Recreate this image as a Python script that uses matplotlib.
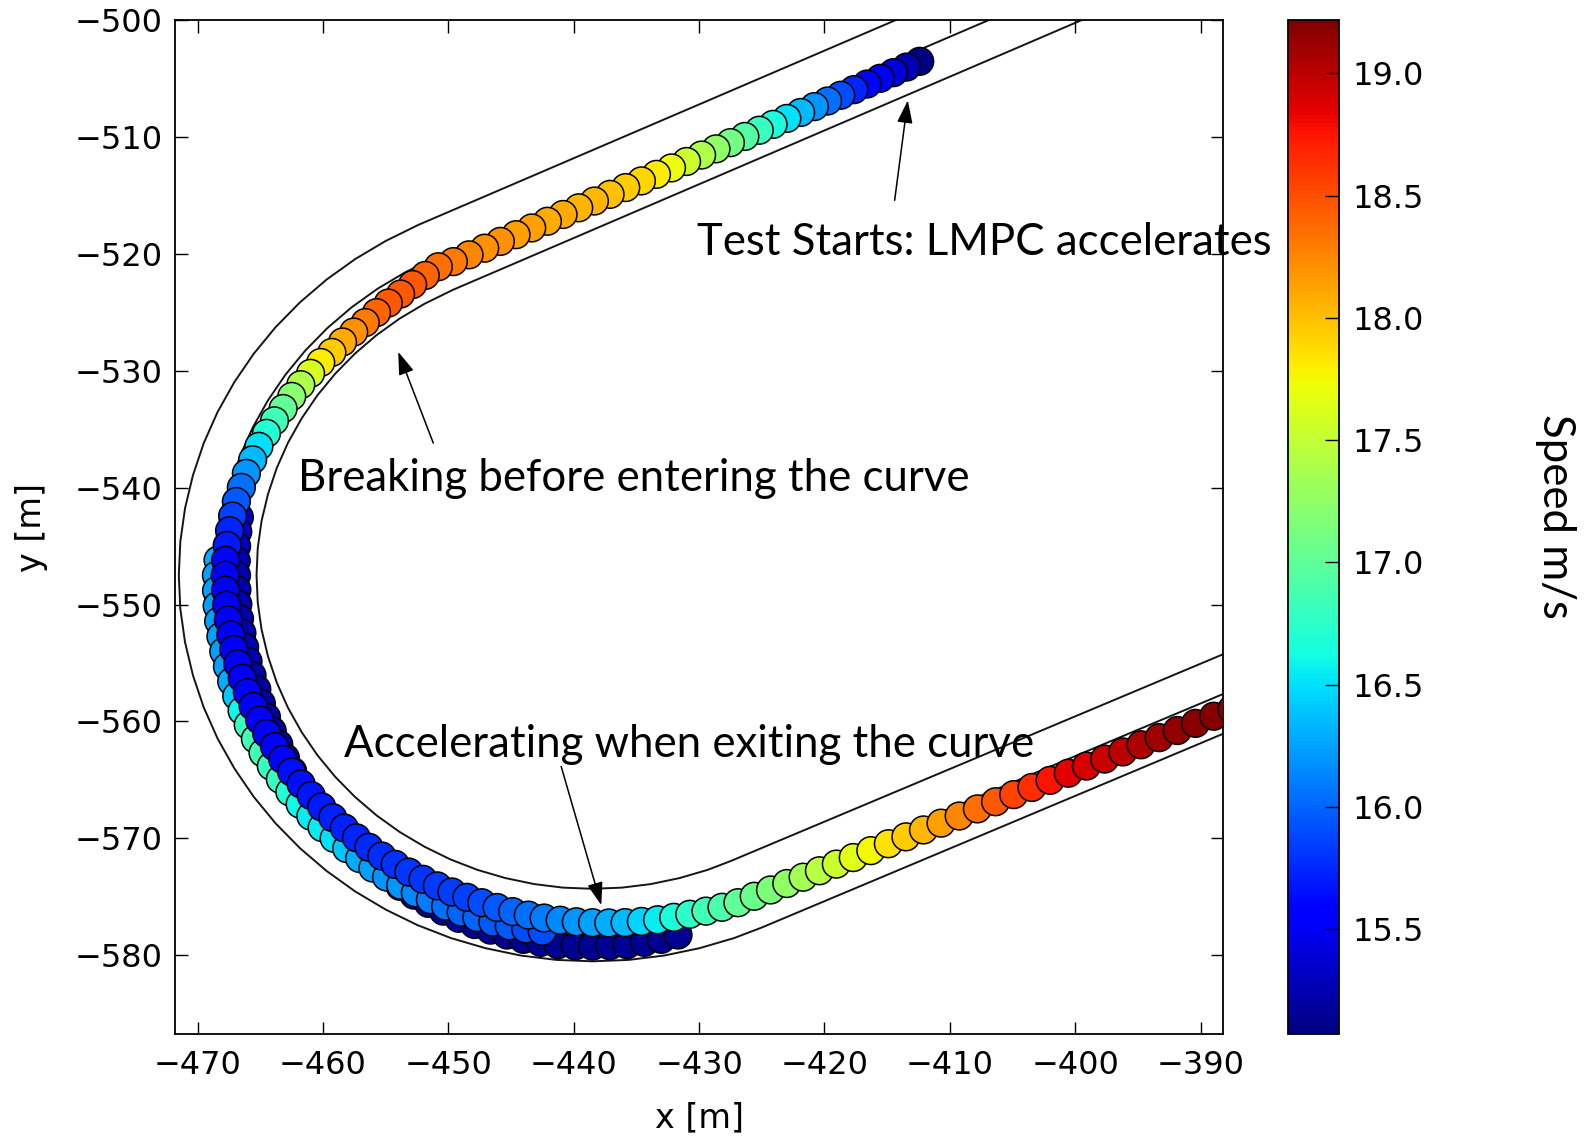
import numpy as np
import matplotlib
matplotlib.use("Agg")
import matplotlib.pyplot as plt
from matplotlib.colors import Normalize

# ---- track centre line (m) ----
track_x = [-395.0, -406.8, -451.0, -453.45, -455.65, -457.72, -459.64, -461.40, -462.99, -464.39,
           -465.60, -466.60, -467.38, -467.95, -468.29, -468.40, -468.29, -467.95, -467.38, -466.60,
           -465.60, -464.39, -462.99, -461.40, -459.64, -457.72, -455.65, -453.45, -451.14, -448.73,
           -446.24, -443.69, -441.11, -438.50, -435.89, -433.31, -430.76, -428.27, -426.24, -385.0]
track_y = [-494.57, -500.0, -520.32, -521.61, -523.01, -524.60, -526.36, -528.28, -530.35, -532.55,
           -534.86, -537.27, -539.76, -542.31, -544.89, -547.50, -550.11, -552.69, -555.24, -557.73,
           -560.14, -562.45, -564.65, -566.72, -568.64, -570.40, -571.99, -573.39, -574.60, -575.60,
           -576.38, -576.95, -577.29, -577.40, -577.29, -576.95, -576.38, -575.60, -574.77, -556.21]
track_half_width = 3.1

# ---- closed-loop trajectory, lap 1: straight in ----
in_x = [-412.4, -413.45, -414.5, -415.55, -416.6, -417.65, -418.7, -419.75, -420.8, -421.9,
        -423.0, -424.1, -425.2, -426.35, -427.5, -428.65, -429.8, -431.0, -432.2, -433.4,
        -434.6, -435.85, -437.1, -438.35, -439.6, -440.85, -442.1, -443.35, -444.6, -445.85,
        -447.1, -448.35, -449.6]
in_y = [-503.57, -504.06, -504.54, -505.02, -505.51, -505.99, -506.47, -506.96, -507.44, -507.94,
        -508.45, -508.96, -509.46, -509.99, -510.52, -511.05, -511.58, -512.13, -512.68, -513.23,
        -513.79, -514.36, -514.94, -515.51, -516.09, -516.66, -517.24, -517.81, -518.39, -518.96,
        -519.54, -520.11, -520.69]
in_v = [15.1, 15.25, 15.4, 15.5, 15.6, 15.75, 15.9, 16.05, 16.2, 16.35,
        16.5, 16.65, 16.8, 16.95, 17.1, 17.25, 17.4, 17.55, 17.7, 17.8,
        17.9, 17.95, 18.0, 18.05, 18.05, 18.1, 18.1, 18.15, 18.15, 18.2,
        18.2, 18.25, 18.3]

# lap 1: corner
turn_x = [-450.80, -451.84, -452.85, -453.81, -454.79, -455.73, -456.63, -457.55, -458.44, -459.29,
          -460.18, -460.99, -461.77, -462.49, -463.18, -463.87, -464.51, -465.11, -465.61, -466.11,
          -466.51, -466.91, -467.21, -467.45, -467.64, -467.77, -467.80, -467.77, -467.69, -467.55,
          -467.35, -467.11, -466.80, -466.44, -466.03, -465.57, -465.05, -464.49, -463.87, -463.21,
          -462.50, -461.75, -460.94, -460.10, -459.22, -458.30, -457.33, -456.34, -455.31, -454.24,
          -453.15, -452.03, -450.88, -449.71, -448.52, -447.33, -446.11, -444.87, -443.62, -442.36,
          -441.08, -439.79, -438.50, -437.20, -435.90, -434.60, -433.31, -432.02, -430.74, -429.45,
          -428.17, -426.90]
turn_y = [-521.13, -521.87, -522.65, -523.46, -524.23, -525.05, -525.90, -526.71, -527.56, -528.45,
          -529.31, -530.24, -531.21, -532.21, -533.25, -534.30, -535.37, -536.48, -537.63, -538.79,
          -539.99, -541.20, -542.44, -543.69, -544.95, -546.22, -547.50, -548.78, -550.05, -551.32,
          -552.59, -553.84, -555.08, -556.31, -557.52, -558.71, -559.88, -561.03, -562.15, -563.24,
          -564.31, -565.34, -566.33, -567.30, -568.22, -569.10, -569.94, -570.75, -571.50, -572.21,
          -572.87, -573.49, -574.05, -574.57, -575.03, -575.49, -575.90, -576.25, -576.55, -576.80,
          -576.99, -577.12, -577.20, -577.22, -577.19, -577.09, -576.95, -576.74, -576.48, -576.21,
          -575.88, -575.49]
turn_v = [18.35, 18.4, 18.45, 18.45, 18.45, 18.4, 18.3, 18.2, 18.1, 17.95,
          17.8, 17.6, 17.4, 17.2, 17.0, 16.85, 16.7, 16.5, 16.35, 16.2,
          16.05, 15.95, 15.85, 15.75, 15.7, 15.6, 15.55, 15.5, 15.5, 15.5,
          15.5, 15.5, 15.5, 15.52, 15.55, 15.55, 15.58, 15.6, 15.6, 15.62,
          15.65, 15.65, 15.68, 15.7, 15.72, 15.73, 15.75, 15.76, 15.78, 15.79,
          15.8, 15.8, 15.82, 15.84, 15.86, 15.9, 15.95, 16.0, 16.05, 16.1,
          16.15, 16.2, 16.25, 16.3, 16.35, 16.45, 16.55, 16.65, 16.75, 16.85,
          16.9, 17.0]

# lap 1: straight out
out_x = [-425.6, -424.3, -423.0, -421.7, -420.4, -419.05, -417.7, -416.3, -414.9, -413.5,
         -412.1, -410.7, -409.25, -407.8, -406.35, -404.9, -403.45, -402.0, -400.55, -399.1,
         -397.65, -396.2, -394.75, -393.3, -391.85, -390.4, -388.95, -387.5]
out_y = [-574.94, -574.40, -573.85, -573.31, -572.76, -572.19, -571.63, -571.04, -570.45, -569.86,
         -569.27, -568.69, -568.08, -567.47, -566.86, -566.25, -565.64, -565.03, -564.42, -563.81,
         -563.21, -562.60, -561.99, -561.38, -560.77, -560.16, -559.55, -558.94]
out_v = [17.05, 17.15, 17.25, 17.35, 17.45, 17.55, 17.65, 17.75, 17.85, 17.95,
         18.05, 18.15, 18.25, 18.35, 18.45, 18.55, 18.65, 18.75, 18.85, 18.9,
         18.95, 19.0, 19.05, 19.1, 19.15, 19.18, 19.2, 19.2]

# earlier laps through the corner
lap2_x = [-468.37, -468.50, -468.49, -468.44, -468.32, -468.14, -467.91, -467.62, -467.28, -466.88,
          -466.45, -465.96, -465.39, -464.78, -464.12, -463.40, -462.64, -461.82, -460.97, -460.07,
          -459.11, -458.11, -457.08, -456.02, -454.93, -453.80, -452.63, -451.43, -450.22, -448.98,
          -447.73, -446.45, -445.14, -443.83, -442.51]
lap2_y = [-546.20, -547.50, -548.81, -550.12, -551.43, -552.73, -554.02, -555.30, -556.58, -557.83,
          -559.08, -560.30, -561.50, -562.68, -563.82, -564.94, -566.02, -567.07, -568.09, -569.07,
          -569.99, -570.86, -571.71, -572.53, -573.29, -574.00, -574.64, -575.23, -575.79, -576.30,
          -576.76, -577.15, -577.47, -577.73, -577.94]
lap2_v = [16.3, 16.25, 16.25, 16.25, 16.25, 16.25, 16.25, 16.25, 16.3, 16.4,
          16.6, 16.8, 16.85, 16.85, 16.8, 16.8, 16.7, 16.6, 16.55, 16.55,
          16.5, 16.4, 16.3, 16.25, 16.2, 16.2, 16.15, 16.1, 16.05, 16.0,
          16.0, 15.95, 15.95, 15.9, 15.9]

lap3_x = [-466.67, -466.80, -466.89, -466.92, -466.90, -466.87, -466.79, -466.66, -466.47, -466.25,
          -465.98, -465.66, -465.28, -464.92, -464.51, -464.05, -463.53, -463.00, -462.42, -461.79,
          -461.10, -460.36, -459.57, -458.73, -457.85, -456.92, -455.94, -454.91, -453.85, -452.73,
          -451.58, -450.39, -449.17, -447.91, -446.63, -445.32, -444.01, -442.63, -441.26, -439.88,
          -438.50, -437.12, -435.74, -434.37, -433.01, -431.68]
lap3_y = [-542.54, -543.77, -545.01, -546.26, -547.50, -548.74, -549.98, -551.21, -552.43, -553.65,
          -554.86, -556.06, -557.25, -558.45, -559.63, -560.80, -561.95, -563.11, -564.25, -565.37,
          -566.46, -567.53, -568.57, -569.58, -570.56, -571.50, -572.40, -573.27, -574.09, -574.84,
          -575.55, -576.21, -576.82, -577.35, -577.83, -578.25, -578.62, -578.88, -579.08, -579.17,
          -579.20, -579.17, -579.08, -578.88, -578.62, -578.25]
lap3_v = [15.35, 15.32, 15.3, 15.28, 15.25, 15.25, 15.25, 15.25, 15.25, 15.25,
          15.25, 15.22, 15.2, 15.2, 15.2, 15.2, 15.2, 15.2, 15.2, 15.2,
          15.2, 15.2, 15.2, 15.2, 15.2, 15.2, 15.2, 15.2, 15.2, 15.2,
          15.2, 15.2, 15.2, 15.15, 15.15, 15.15, 15.15, 15.15, 15.15, 15.15,
          15.15, 15.15, 15.15, 15.15, 15.15, 15.15]

speed_min, speed_max = 15.07, 19.22
cbar_ticks = [15.5, 16.0, 16.5, 17.0, 17.5, 18.0, 18.5, 19.0]


def offset_line(x, y, dist):
    pts = np.column_stack([x, y])
    seg = np.diff(pts, axis=0)
    seg = seg / np.linalg.norm(seg, axis=1)[:, None]
    tang = np.vstack([seg[0], seg[:-1] + seg[1:], seg[-1]])
    tang = tang / np.linalg.norm(tang, axis=1)[:, None]
    normal = np.column_stack([-tang[:, 1], tang[:, 0]])
    res = pts + dist * normal
    return res[:, 0], res[:, 1]


fig = plt.figure(figsize=(15.87, 11.38), dpi=100)
ax = fig.add_axes([0.1103, 0.0910, 0.6604, 0.8918])

# track: outer edge, centre line, inner edge
for d in (-track_half_width, 0.0, track_half_width):
    lx, ly = offset_line(track_x, track_y, d)
    ax.plot(lx, ly, color='#151515', lw=1.4, zorder=1)

norm = Normalize(vmin=speed_min, vmax=speed_max)
laps = [
    (lap3_x, lap3_y, lap3_v),
    (lap2_x, lap2_y, lap2_v),
    (in_x + turn_x + out_x, in_y + turn_y + out_y, in_v + turn_v + out_v),
]
for lx, ly, lv in laps:
    sc = ax.scatter(lx, ly, c=lv, cmap='jet', norm=norm, s=400,
                    edgecolors='black', linewidths=1.1, zorder=3)

ax.set_xlim(-471.8, -388.2)
ax.set_ylim(-586.75, -500)
ax.set_xticks(np.arange(-470, -389, 10))
ax.set_yticks(np.arange(-580, -499, 10))
ax.tick_params(direction='in', length=9, width=1, top=True, right=True, labelsize=23)
ax.tick_params(axis='x', pad=11)
ax.tick_params(axis='y', pad=9)
for sp in ax.spines.values():
    sp.set_linewidth(1.3)
ax.set_xlabel('x [m]', fontsize=24, labelpad=15)
ax.set_ylabel('y [m]', fontsize=24, labelpad=19)

# annotations (slide overlay)
note_font = dict(family=['Lato', 'DejaVu Sans'], fontsize=31.5, color='black')
arrow = dict(arrowstyle='-|>,head_length=0.5,head_width=0.17', color='black',
             lw=1.1, mutation_scale=28, shrinkA=0, shrinkB=0)
ax.text(-430.2, -520.16, 'Test Starts: LMPC accelerates', ha='left', va='baseline', zorder=5, **note_font)
ax.annotate('', xy=(-413.35, -506.9), xytext=(-414.4, -515.45), arrowprops=arrow, zorder=5)
ax.text(-462.0, -540.31, 'Breaking before entering the curve', ha='left', va='baseline', zorder=5, **note_font)
ax.annotate('', xy=(-454.0, -528.4), xytext=(-451.2, -536.2), arrowprops=arrow, zorder=5)
ax.text(-458.33, -563.06, 'Accelerating when exiting the curve', ha='left', va='baseline', zorder=5, **note_font)
ax.annotate('', xy=(-437.8, -575.7), xytext=(-441.0, -563.84), arrowprops=arrow, zorder=5)

# colour bar
cax = fig.add_axes([0.8116, 0.0910, 0.0321, 0.8918])
cb = fig.colorbar(sc, cax=cax)
cb.set_ticks(cbar_ticks)
cb.ax.set_yticklabels(['%.1f' % t for t in cbar_ticks])
cb.ax.tick_params(direction='in', length=10, width=1, labelsize=23, pad=10)
cb.outline.set_linewidth(1.3)
fig.text(0.980, 0.546, 'Speed m/s', rotation=270, ha='center', va='center',
         family=['Lato', 'DejaVu Sans'], fontsize=31.5)

fig.savefig('out.png', dpi=100)
